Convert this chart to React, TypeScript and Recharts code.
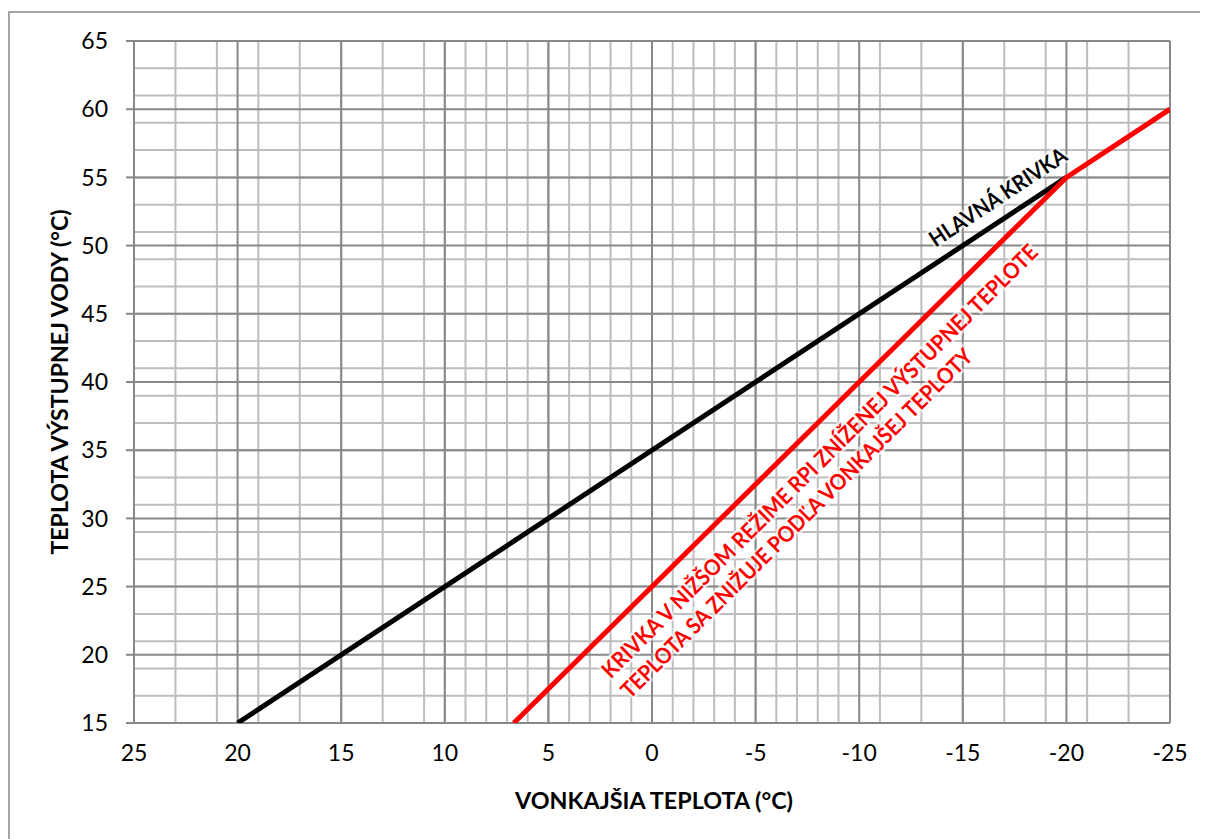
import React from 'react'
import { LineChart, Line, XAxis, YAxis, CartesianGrid, ReferenceDot } from 'recharts'

// outdoor temperature ticks (axis runs from warm to cold)
const xTicks = [25, 20, 15, 10, 5, 0, -5, -10, -15, -20, -25]
const yTicks = [15, 20, 25, 30, 35, 40, 45, 50, 55, 60, 65]

// main heating curve
const mainOutdoor = [20, -20]
const mainFlow = [15, 55]

// reduced mode curve
const reducedOutdoor = [6.67, -20, -25]
const reducedFlow = [15, 55, 60]

const mainData = mainOutdoor.map((x, i) => ({ x, y: mainFlow[i] }))
const reducedData = reducedOutdoor.map((x, i) => ({ x, y: reducedFlow[i] }))

// minor grid every 1 unit
const minorX = Array.from({ length: 51 }, (_, i) => -25 + i)
const minorY = Array.from({ length: 51 }, (_, i) => 15 + i)

const FONT = 'Lato, "Open Sans", sans-serif'

type TextLine = { text: string; dx: number; dy: number; length: number }

function rotatedText(lines: TextLine[], color: string, angle: number, size: number) {
    return (props: any) => {
        const vb = props.viewBox || {}
        const cx = vb.x + (vb.width || 0) / 2
        const cy = vb.y + (vb.height || 0) / 2
        return (
            <g transform={`translate(${cx},${cy}) rotate(${angle})`}>
                {lines.map((l, i) => (
                    <text
                        key={i}
                        x={l.dx}
                        y={l.dy}
                        textAnchor="middle"
                        dominantBaseline="central"
                        fontFamily={FONT}
                        fontWeight={700}
                        fontSize={size}
                        fill={color}
                        stroke="#ffffff"
                        strokeWidth={5}
                        strokeOpacity={0.6}
                        paintOrder="stroke"
                        textLength={l.length}
                        lengthAdjust="spacingAndGlyphs"
                    >
                        {l.text}
                    </text>
                ))}
            </g>
        )
    }
}

export default function App() {
    return (
        <div style={{ position: 'relative', width: 1200, height: 831 }}>
            <div
                style={{
                    position: 'absolute',
                    left: 0,
                    top: 3,
                    width: 1200,
                    height: 828,
                    borderLeft: '2px solid #a6a6a6',
                    borderTop: '2px solid #a6a6a6',
                    boxSizing: 'border-box',
                }}
            />
            <div style={{ position: 'absolute', left: 0, top: 0 }}>
                <LineChart width={1200} height={831} margin={{ top: 33, right: 38, left: 0, bottom: 36 }}>
                    <CartesianGrid
                        stroke="#bdbdbd"
                        strokeWidth={2}
                        verticalValues={minorX}
                        horizontalValues={minorY}
                    />
                    <CartesianGrid
                        stroke="#888888"
                        strokeWidth={2}
                        verticalValues={xTicks}
                        horizontalValues={yTicks}
                    />
                    <XAxis
                        dataKey="x"
                        type="number"
                        domain={[-25, 25]}
                        reversed
                        ticks={xTicks}
                        allowDataOverflow
                        height={80}
                        tickLine={false}
                        axisLine={false}
                        tickSize={0}
                        tickMargin={22}
                        tick={{ fontSize: 23, fill: '#000', fontFamily: FONT }}
                        label={{
                            content: (p: any) => (
                                <text
                                    x={p.viewBox.x + p.viewBox.width / 2 + 2}
                                    y={p.viewBox.y + 77}
                                    textAnchor="middle"
                                    dominantBaseline="central"
                                    fontFamily={FONT}
                                    fontWeight={700}
                                    fontSize={23}
                                    fill="#000"
                                    textLength={278}
                                    lengthAdjust="spacingAndGlyphs"
                                >
                                    VONKAJŠIA TEPLOTA (°C)
                                </text>
                            ),
                        }}
                    />
                    <YAxis
                        type="number"
                        domain={[15, 65]}
                        ticks={yTicks}
                        allowDataOverflow
                        width={126}
                        axisLine={false}
                        tickLine={{ stroke: '#888888', strokeWidth: 2 }}
                        tickSize={8}
                        tickMargin={18}
                        tick={{ fontSize: 23, fill: '#000', fontFamily: FONT }}
                        label={{
                            content: (p: any) => {
                                const x = p.viewBox.x + 51
                                const y = p.viewBox.y + p.viewBox.height / 2
                                return (
                                    <text
                                        x={x}
                                        y={y}
                                        transform={`rotate(-90 ${x} ${y})`}
                                        textAnchor="middle"
                                        dominantBaseline="central"
                                        fontFamily={FONT}
                                        fontWeight={700}
                                        fontSize={23}
                                        fill="#000"
                                        textLength={345}
                                        lengthAdjust="spacingAndGlyphs"
                                    >
                                        TEPLOTA VÝSTUPNEJ VODY (°C)
                                    </text>
                                )
                            },
                        }}
                    />
                    <Line
                        data={mainData}
                        dataKey="y"
                        stroke="#000000"
                        strokeWidth={5}
                        dot={false}
                        isAnimationActive={false}
                    />
                    <Line
                        data={reducedData}
                        dataKey="y"
                        stroke="#ff0000"
                        strokeWidth={5}
                        dot={false}
                        isAnimationActive={false}
                    />
                    <ReferenceDot
                        x={-16.67}
                        y={53.6}
                        r={0}
                        fill="none"
                        stroke="none"
                        label={rotatedText(
                            [{ text: 'HLAVNÁ KRIVKA', dx: 0, dy: 0, length: 160 }],
                            '#000000',
                            -33.5,
                            22
                        )}
                    />
                    <ReferenceDot
                        x={-8.06}
                        y={34.24}
                        r={0}
                        fill="none"
                        stroke="none"
                        label={rotatedText(
                            [
                                { text: 'KRIVKA V NIŽŠOM REŽIME RPI ZNÍŽENEJ VÝSTUPNEJ TEPLOTE', dx: 0, dy: 0, length: 604 },
                                { text: 'TEPLOTA SA ZNIŽUJE PODĽA VONKAJŠEJ TEPLOTY', dx: -60, dy: 28, length: 485 },
                            ],
                            '#ff0000',
                            -44.8,
                            22
                        )}
                    />
                </LineChart>
            </div>
        </div>
    )
}
